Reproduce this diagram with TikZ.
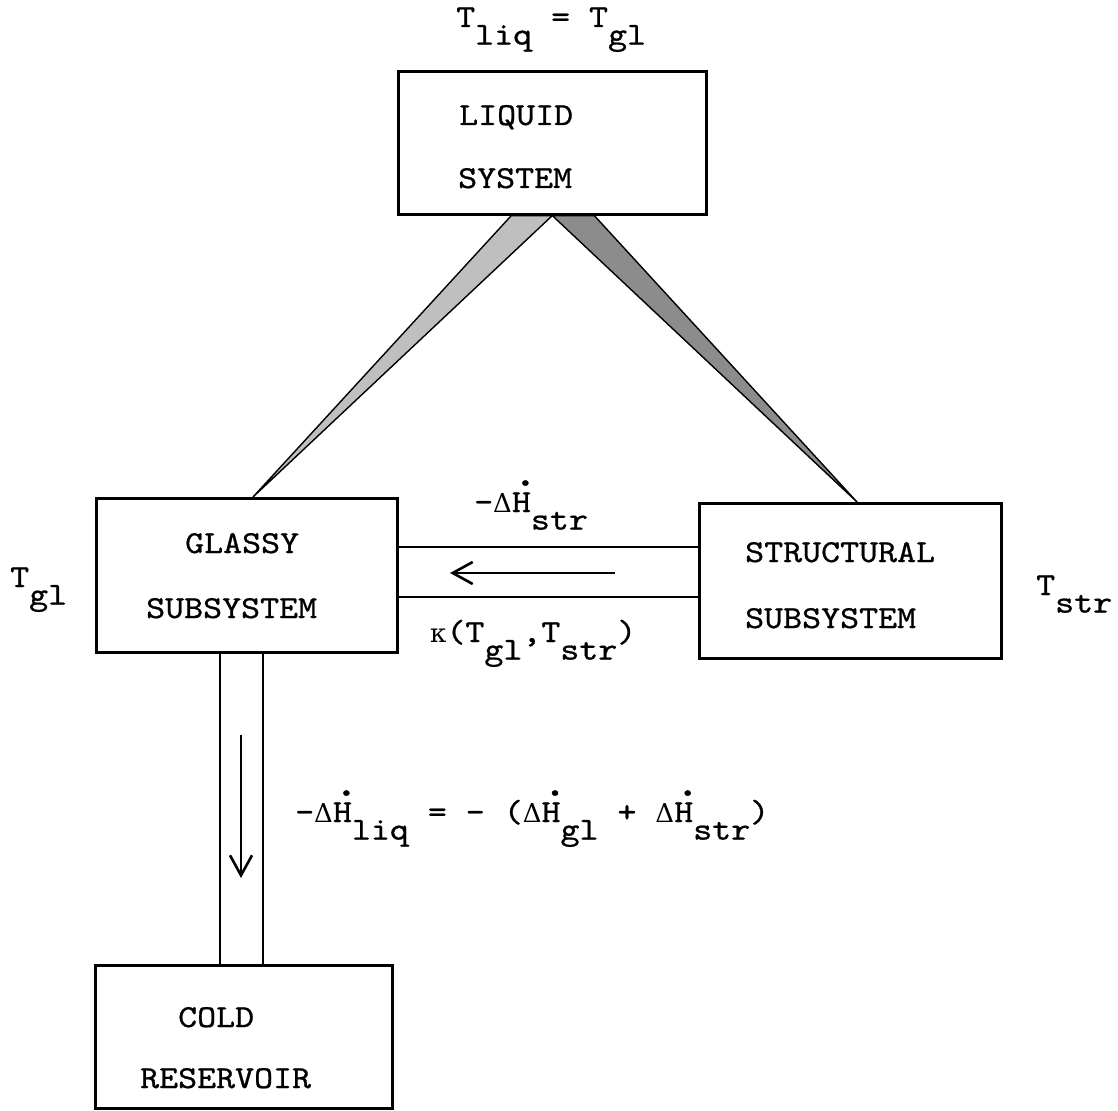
\documentclass[tikz,border=0pt]{standalone}
\usepackage{fontspec}
\newfontfamily\tw{lmmono10-regular}[Extension=.otf, FakeStretch=1.13, FakeBold=0.8]
\newfontfamily\gr{DejaVu Serif}
\usetikzlibrary{arrows.meta,calc}
\pgfdeclarelayer{bg}
\pgfsetlayers{bg,main}
\newcommand{\lo}[1]{\raisebox{-0.55em}{#1}}
\newcommand{\Hd}{\rlap{\raisebox{0.82em}{\kern0.02em\scalebox{1.35}{.}}}H}
\newcommand{\Dl}{{\gr\fontsize{26}{30}\selectfont Δ}}
\newcommand{\kp}{{\gr\fontsize{26}{30}\selectfont κ}}
\begin{document}
\begin{tikzpicture}[x=1pt,y=-1pt,
  box/.style={draw=black, line width=2.6pt, rectangle, inner sep=0pt, anchor=north west},
  lbl/.style={inner sep=0pt, anchor=base west, font=\tw\fontsize{32}{38}\selectfont},
  chan/.style={line width=2.4pt},
  flow/.style={line width=2.6pt, -{Straight Barb[length=20pt,width=22pt]}},
  wedgeL/.style={draw=black, line width=1.4pt, fill=black!25},
  wedgeR/.style={draw=black, line width=1.4pt, fill=black!45}]
\useasboundingbox (0,0) rectangle (1118,1110);

% boxes
\node[box, minimum width=308pt, minimum height=143pt] (liq) at (397,70) {};
\node[box, minimum width=301pt, minimum height=154pt] (glassy) at (95,497) {};
\node[box, minimum width=302pt, minimum height=155pt] (struct) at (698,502) {};
\node[box, minimum width=297pt, minimum height=143pt] (cold) at (94,964) {};

% wedge connectors
\begin{pgfonlayer}{bg}
\draw[wedgeL] ($(glassy.north west)+(158,0)$) -- ($(liq.south)+(-41,0)$) -- (liq.south) -- cycle;
\draw[wedgeR] ($(struct.north west)+(159,0)$) -- ($(liq.south)+(42,0)$) -- (liq.south) -- cycle;
\end{pgfonlayer}

% horizontal channel
\draw[chan] ($(glassy.north east)+(0,50)$) -- ($(struct.north west)+(0,45)$);
\draw[chan] ($(glassy.north east)+(0,100)$) -- ($(struct.north west)+(0,95)$);
\coordinate (h1) at (615,573);
\coordinate (h2) at (450,573);
\draw[flow] (h1) -- (h2);

% vertical channel
\draw[chan] ($(glassy.south west)+(125,0)$) -- ($(cold.north west)+(126,0)$);
\draw[chan] ($(glassy.south west)+(168,0)$) -- ($(cold.north west)+(169,0)$);
\coordinate (v1) at (241,735);
\coordinate (v2) at (241,878);
\draw[flow] (v1) -- (v2);

% box texts
\node[lbl] (liq1) at (459,125) {LIQUID};
\node[lbl] (liq2) at (458,188) {SYSTEM};
\node[lbl] (gl1) at (185,553) {GLASSY};
\node[lbl] (gl2) at (146,618) {SUBSYSTEM};
\node[lbl] (st1) at (745,562) {STRUCTURAL};
\node[lbl] (st2) at (745,628) {SUBSYSTEM};
\node[lbl] (co1) at (178,1027) {COLD};
\node[lbl] (co2) at (140,1088) {RESERVOIR};

% labels
\node[lbl] (tliq) at (456,27) {T\lo{liq} = T\lo{gl}};
\node[lbl] (tgl) at (10,587) {T\lo{gl}};
\node[lbl] (tstr) at (1036,595) {T\lo{str}};
\node[lbl] (dhstr) at (474,512) {-\Dl\Hd\lo{str}};
\node[lbl] (kappa) at (430,642) {\kp(T\lo{gl},T\lo{str})};
\node[lbl] (eq) at (295,822) {-\Dl\Hd\lo{liq} = - (\Dl\Hd\lo{gl} + \Dl\Hd\lo{str})};
\end{tikzpicture}
\end{document}
